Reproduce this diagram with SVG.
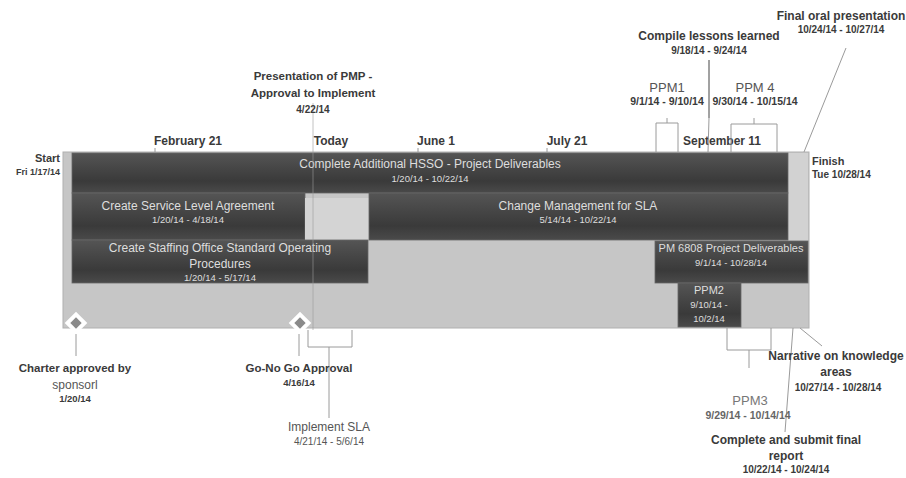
<svg xmlns="http://www.w3.org/2000/svg" width="906" height="478" viewBox="0 0 906 478">
<defs>
<linearGradient id="dark" x1="0" y1="0" x2="0" y2="1">
<stop offset="0" stop-color="#555"/>
<stop offset="0.35" stop-color="#474747"/>
<stop offset="0.7" stop-color="#3a3a3a"/>
<stop offset="1" stop-color="#4a4a4a"/>
</linearGradient>
<style>
.lbl{font-family:"Liberation Sans",Arial,sans-serif;font-size:11.5px;fill:#3a3a3a;text-anchor:middle;font-weight:bold}
.dt{font-family:"Liberation Sans",Arial,sans-serif;font-size:10px;fill:#3a3a3a;text-anchor:middle;font-weight:bold}
.ax{font-family:"Liberation Sans",Arial,sans-serif;font-size:12px;fill:#3a3a3a;text-anchor:middle;font-weight:bold}
.bt{font-family:"Liberation Sans",Arial,sans-serif;font-size:12px;fill:#dedede;text-anchor:middle}
.bd{font-family:"Liberation Sans",Arial,sans-serif;font-size:9.5px;fill:#dedede;text-anchor:middle}
.nm{font-family:"Liberation Sans",Arial,sans-serif;font-size:13px;fill:#555;text-anchor:middle}
.bar{fill:url(#dark);stroke:#666;stroke-width:0.8}
.ln{stroke:#9a9a9a;stroke-width:1;fill:none}
.lnd{stroke:#444;stroke-width:1;fill:none}
.gr{fill:#8a8a8a}
</style>
</defs>

<g id="timeline-bg">
<rect x="63" y="152" width="746" height="176" fill="#c6c6c6" stroke="#b0b0b0" stroke-width="1"/>
<rect x="788" y="153" width="20" height="88" fill="#d2d2d2"/>
</g>

<g id="axis">
<text class="ax" x="188" y="145">February 21</text>
<text class="ax" x="331" y="145">Today</text>
<text class="ax" x="436" y="145">June 1</text>
<text class="ax" x="567" y="145">July 21</text>
<text class="ax" x="722" y="145">September 11</text>
<line class="ln" x1="155" y1="148" x2="155" y2="152"/>
<line class="ln" x1="418" y1="148" x2="418" y2="152"/>
<line class="ln" x1="547" y1="148" x2="547" y2="152"/>
</g>

<g id="start">
<text class="dt" x="60" y="162" style="text-anchor:end;font-size:11px">Start</text>
<text class="dt" x="60" y="175" style="text-anchor:end;font-size:9px">Fri 1/17/14</text>
</g>
<g id="finish">
<text class="dt" x="812" y="165" style="text-anchor:start;font-size:11px">Finish</text>
<text class="dt" x="812" y="178" style="text-anchor:start">Tue 10/28/14</text>
</g>

<g id="task-hsso">
<rect class="bar" x="72" y="153" width="716" height="40"/>
<text class="bt" x="430" y="168">Complete Additional HSSO - Project Deliverables</text>
<text class="bd" x="430" y="182">1/20/14 - 10/22/14</text>
</g>

<g id="task-sla">
<rect class="bar" x="72" y="193" width="233" height="47"/>
<text class="bt" x="188" y="210">Create Service Level Agreement</text>
<text class="bd" x="188" y="223">1/20/14 - 4/18/14</text>
</g>

<g id="gap-box">
<rect x="305" y="198" width="64" height="42" fill="#d4d4d4"/>
</g>

<g id="task-change">
<rect class="bar" x="369" y="193" width="419" height="47"/>
<text class="bt" x="578" y="210">Change Management for SLA</text>
<text class="bd" x="578" y="223">5/14/14 - 10/22/14</text>
</g>

<g id="task-sop">
<rect class="bar" x="72" y="240" width="296" height="43"/>
<text class="bt" x="220" y="252">Create Staffing Office Standard Operating</text>
<text class="bt" x="220" y="268">Procedures</text>
<text class="bd" x="220" y="281">1/20/14 - 5/17/14</text>
</g>

<g id="task-pm6808">
<rect class="bar" x="655" y="241" width="153" height="42"/>
<text class="bt" x="731" y="252" style="font-size:11px">PM 6808 Project Deliverables</text>
<text class="bd" x="731" y="266">9/1/14 - 10/28/14</text>
</g>

<g id="task-ppm2">
<rect class="bar" x="678" y="283" width="63" height="44"/>
<text class="bt" x="709" y="294" style="font-size:11px">PPM2</text>
<text class="bd" x="709" y="308">9/10/14 -</text>
<text class="bd" x="709" y="322">10/2/14</text>
</g>

<g id="connectors">
<line class="ln" x1="313" y1="103" x2="313" y2="330" stroke-opacity="0.6"/>
<line class="lnd" x1="709" y1="60" x2="709" y2="118"/>
<line class="ln" x1="709" y1="118" x2="708" y2="152"/>
<line class="ln" x1="846" y1="48" x2="804" y2="152"/>
<path class="ln" d="M656,152 V123 H678 V152 M667,123 V118"/>
<path class="ln" d="M731,152 V124 H777 V152 M754,124 V118"/>
<line class="ln" x1="76" y1="334" x2="76" y2="356"/>
<line class="ln" x1="299" y1="334" x2="299" y2="356"/>
<path class="ln" d="M308,330 V347 H352 V330 M329,347 V418"/>
<path class="ln" d="M727,328 V350 H771 V328 M749,350 V368"/>
<line class="ln" x1="793" y1="328" x2="785" y2="432"/>
<line class="ln" x1="800" y1="328" x2="822" y2="346"/>
</g>

<g id="ms-charter">
<rect x="68" y="315" width="16" height="16" transform="rotate(45 76 323)" fill="#fff"/>
<rect x="72" y="319" width="8" height="8" transform="rotate(45 76 323)" class="gr"/>
<text class="lbl" x="75" y="372">Charter approved by</text>
<text class="nm" x="75" y="389" style="font-size:12px">sponsorl</text>
<text class="dt" x="75" y="402" style="font-size:9.5px">1/20/14</text>
</g>

<g id="ms-gonogo">
<rect x="292" y="315" width="16" height="16" transform="rotate(45 300 323)" fill="#fff"/>
<rect x="296" y="319" width="8" height="8" transform="rotate(45 300 323)" class="gr"/>
<text class="lbl" x="299" y="372">Go-No Go Approval</text>
<text class="dt" x="299" y="386" style="font-size:9.5px">4/16/14</text>
</g>

<g id="impl-sla">
<text class="nm" x="329" y="431" style="font-size:12px">Implement SLA</text>
<text class="nm" x="329" y="445" style="font-size:10px">4/21/14 - 5/6/14</text>
</g>

<g id="pres-pmp">
<text class="lbl" x="313" y="80">Presentation of PMP -</text>
<text class="lbl" x="313" y="97">Approval to Implement</text>
<text class="dt" x="313" y="113">4/22/14</text>
</g>

<g id="lessons">
<text class="lbl" x="709" y="40" style="font-size:12px">Compile lessons learned</text>
<text class="dt" x="709" y="54">9/18/14 - 9/24/14</text>
</g>

<g id="ppm1">
<text class="nm" x="667" y="92">PPM1</text>
<text class="dt" x="667" y="105" style="font-size:10.5px">9/1/14 - 9/10/14</text>
</g>

<g id="ppm4">
<text class="nm" x="755" y="92">PPM 4</text>
<text class="dt" x="755" y="105" style="font-size:10.5px">9/30/14 - 10/15/14</text>
</g>

<g id="final-oral">
<text class="lbl" x="841" y="20" style="font-size:12px">Final oral presentation</text>
<text class="dt" x="841" y="33">10/24/14 - 10/27/14</text>
</g>

<g id="ppm3">
<text class="nm" x="750" y="405" style="fill:#777">PPM3</text>
<text class="dt" x="748" y="419" style="fill:#666;font-size:10.5px">9/29/14 - 10/14/14</text>
</g>

<g id="narrative">
<text class="lbl" x="836" y="360" style="font-size:12px">Narrative on knowledge</text>
<text class="lbl" x="836" y="376" style="font-size:12px">areas</text>
<text class="dt" x="838" y="391">10/27/14 - 10/28/14</text>
</g>

<g id="final-report">
<text class="lbl" x="786" y="444" style="font-size:12px">Complete and submit final</text>
<text class="lbl" x="786" y="460" style="font-size:12px">report</text>
<text class="dt" x="786" y="473">10/22/14 - 10/24/14</text>
</g>
</svg>
